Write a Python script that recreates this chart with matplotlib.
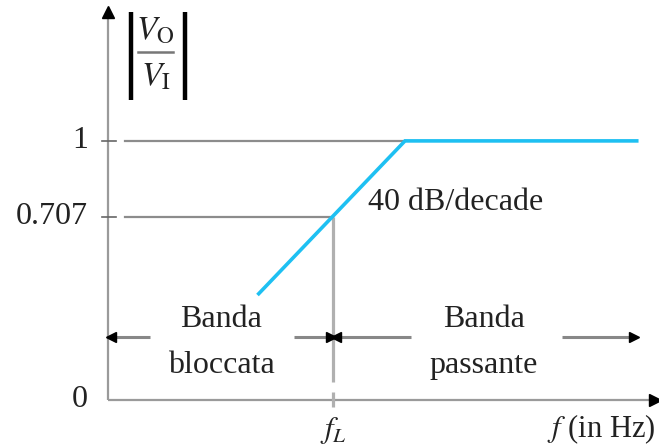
import matplotlib
matplotlib.use("Agg")
import matplotlib.pyplot as plt

plt.rcParams['font.family'] = ['Liberation Serif', 'DejaVu Serif']
plt.rcParams['mathtext.fontset'] = 'stix'

# frequency axis in units of f_L, magnitude |Vo/Vi|
resp_f = [0.67, 1.32, 2.35]
resp_mag = [0.41, 1.0, 1.0]

f_L = 1.0
ytick_vals = [0, 0.707, 1]
ytick_labels = ['0', '0.707', '1']

stop_label = ['Banda', 'bloccata']
pass_label = ['Banda', 'passante']
slope_label = '40 dB/decade'

axis_gray = '#9a9a9a'
line_gray = '#8c8c8c'
blue = '#1ec0f2'
txt = '#222222'

fig = plt.figure(figsize=(6.59, 4.46), dpi=100)
ax = fig.add_axes([0, 0, 1, 1])
ax.set_xlim(-0.48, 2.449)
ax.set_ylim(-0.178, 1.544)
ax.axis('off')

# axes with arrow heads
x_end, y_end = 2.431, 1.498
ax.plot([0, 0], [0, y_end - 0.02], color=axis_gray, lw=1.6, solid_capstyle='butt')
ax.plot([0, x_end - 0.02], [0, 0], color=axis_gray, lw=1.6, solid_capstyle='butt')
ax.plot([0], [y_end], marker='^', color='black', ms=8, mec='black')
ax.plot([x_end], [0], marker='>', color='black', ms=8, mec='black')

# y ticks + labels
for v, lab in zip(ytick_vals, ytick_labels):
    if v > 0:
        ax.plot([-0.027, 0.036], [v, v], color='#666666', lw=1.2)
    ax.text(-0.089, v, lab, ha='right', va='center', fontsize=23, color=txt)

# reference lines at 1 and 0.707
ax.plot([0.076, resp_f[1]], [1, 1], color=line_gray, lw=1.6)
ax.plot([0.076, f_L], [0.707, 0.707], color=line_gray, lw=1.6)

# vertical line at f_L
ax.plot([f_L, f_L], [0.07, 0.707], color='#b0b0b0', lw=2.3, solid_capstyle='butt')
ax.plot([f_L, f_L], [-0.027, 0.03], color='#b0b0b0', lw=2.3, solid_capstyle='butt')

# response
ax.plot(resp_f, resp_mag, color=blue, lw=2.6, solid_joinstyle='miter')

ax.text(1.156, 0.734, slope_label, ha='left', va='baseline', fontsize=23, color=txt)

# band arrows
arrow_y = 0.243
segments = [(0.187, 0.015, '<'), (0.827, 0.99, '>'), (1.347, 1.012, '<'), (2.018, 2.34, '>')]
for x0, x1, mk in segments:
    ax.plot([x0, x1], [arrow_y, arrow_y], color='#888888', lw=2.2, solid_capstyle='butt')
    ax.plot([x1], [arrow_y], marker=mk, color='black', ms=7)

ax.text(0.502, 0.282, stop_label[0], ha='center', va='baseline', fontsize=23, color=txt)
ax.text(0.502, 0.104, stop_label[1], ha='center', va='baseline', fontsize=23, color=txt)
ax.text(1.67, 0.282, pass_label[0], ha='center', va='baseline', fontsize=23, color=txt)
ax.text(1.67, 0.104, pass_label[1], ha='center', va='baseline', fontsize=23, color=txt)

# axis labels
ax.text(f_L, -0.118, r'$f_L$', ha='center', va='center', fontsize=22, color=txt)
ax.text(2.431, -0.145, r'$f$ (in Hz)', ha='right', va='baseline', fontsize=22, color=txt)

# |Vo / Vi| label drawn as bars + stacked fraction
for bx in (0.102, 0.342):
    ax.plot([bx, bx], [1.158, 1.498], color='black', lw=3.2, solid_capstyle='butt')
ax.plot([0.133, 0.289], [1.344, 1.344], color='#777777', lw=1.8)
ax.text(0.211, 1.425, r'$V_{\mathrm{O}}$', ha='center', va='center', fontsize=24, color=txt)
ax.text(0.211, 1.245, r'$V_{\mathrm{I}}$', ha='center', va='center', fontsize=24, color=txt)

fig.savefig('out.png', dpi=100)
